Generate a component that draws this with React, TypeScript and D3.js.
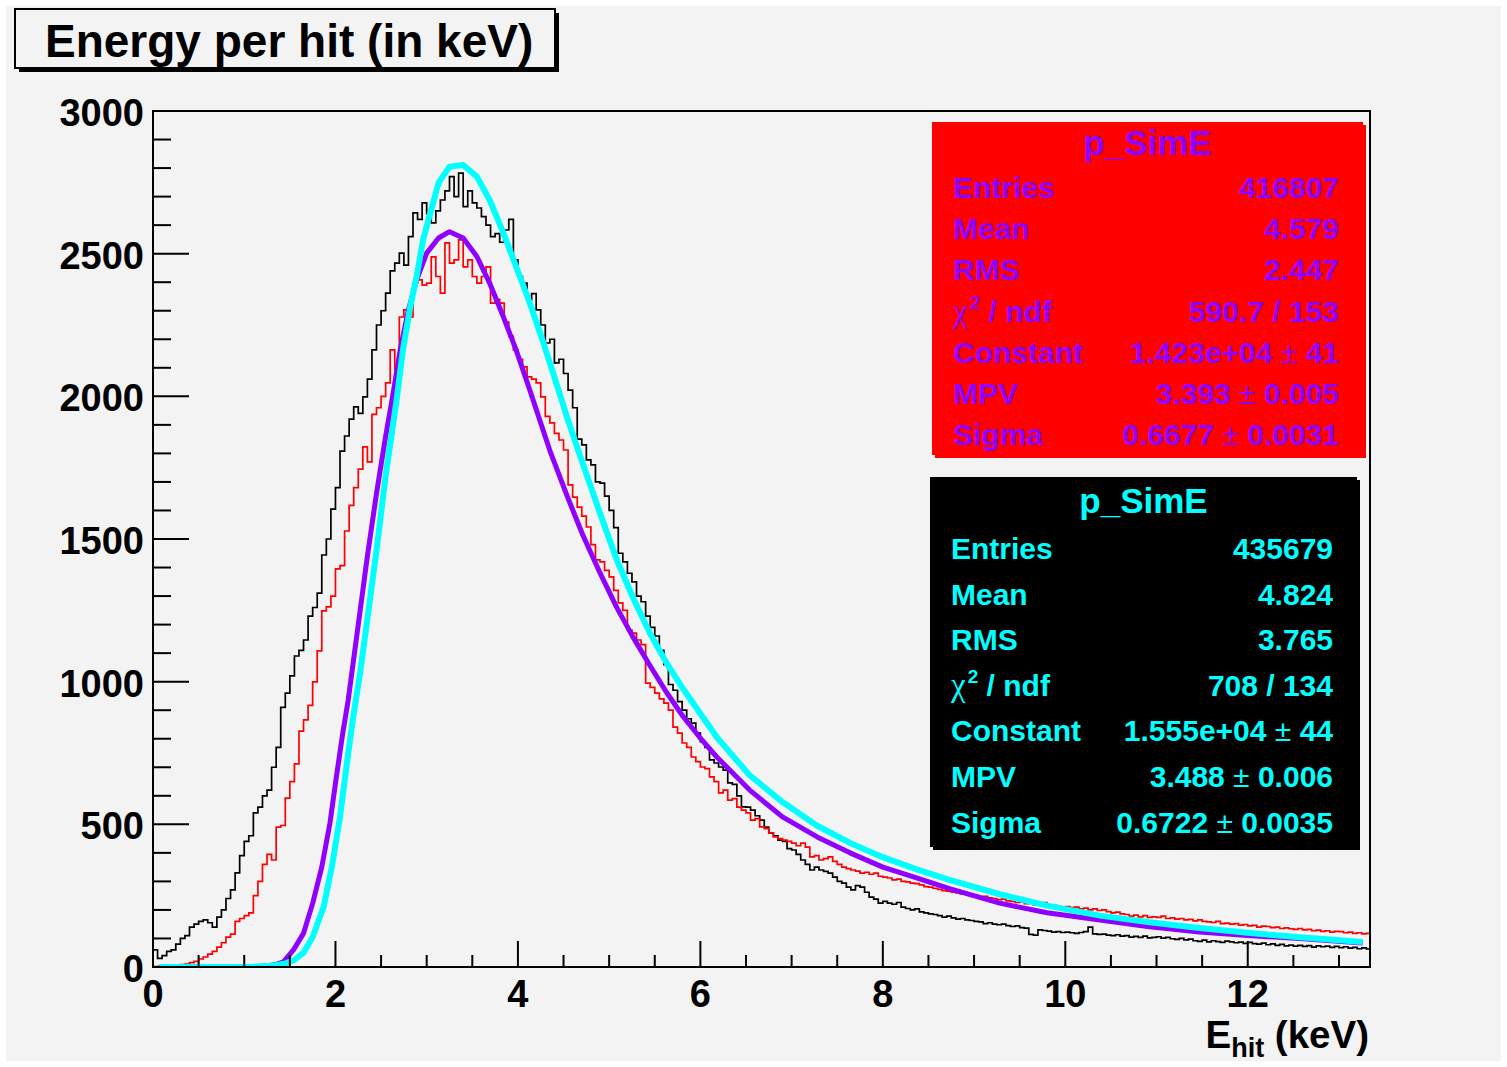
import React from "react";
import * as d3 from "d3";

// ---------------- data ----------------
const X_MAX = 13.34;
const Y_MAX = 3000;
const BIN_WIDTH = 0.05;

// black histogram (435679 entries), counts per 0.05 keV bin starting at 0 (one row = 1 keV)
const BLACK_COUNTS = [
  60, 30, 40, 55, 60, 80, 100, 110, 140, 150, 160, 165, 155, 140, 175, 200, 240, 270, 330, 390,
  440, 460, 540, 560, 600, 620, 700, 770, 910, 960, 1020, 1090, 1110, 1146, 1230, 1260, 1310, 1444, 1500, 1605,
  1680, 1808, 1861, 1920, 1963, 1940, 1998, 2060, 2163, 2250, 2300, 2362, 2440, 2467, 2502, 2460, 2560, 2643, 2620, 2678,
  2640, 2608, 2650, 2688, 2720, 2770, 2700, 2782, 2665, 2720, 2678, 2660, 2630, 2600, 2560, 2570, 2540, 2583, 2620, 2478,
  2420, 2397, 2338, 2360, 2303, 2250, 2187, 2200, 2117, 2130, 2080, 2022, 1960, 1850, 1830, 1777, 1760, 1700, 1696, 1650,
  1600, 1540, 1450, 1420, 1380, 1350, 1300, 1280, 1230, 1190, 1160, 1110, 1060, 990, 970, 930, 900, 870, 855, 820,
  790, 770, 726, 715, 701, 690, 645, 640, 600, 561, 560, 550, 530, 515, 490, 470, 460, 445, 440, 415,
  410, 395, 375, 360, 340, 350, 340, 335, 329, 315, 300, 294, 280, 270, 285, 280, 262, 245, 238, 224,
  230, 224, 220, 226, 210, 205, 200, 204, 193, 190, 186, 184, 180, 175, 178, 172, 168, 170, 165, 163,
  160, 158, 152, 155, 150, 148, 150, 145, 142, 144, 138, 136, 114, 112, 130, 128, 126, 122, 124, 121,
  122, 120, 118, 121, 124, 140, 116, 114, 115, 112, 110, 113, 108, 110, 105, 107, 104, 108, 102, 104,
  106, 101, 104, 99, 97, 100, 95, 98, 92, 90, 94, 88, 92, 89, 86, 91, 88, 85, 87, 83,
  86, 82, 80, 84, 78, 81, 76, 79, 74, 77, 73, 76, 72, 75, 70, 74, 71, 73, 69, 72,
  68, 71, 66, 69, 64, 67, 63,
];

// red histogram (416807 entries), counts per 0.05 keV bin starting at 0 (one row = 1 keV)
const RED_COUNTS = [
  1, 2, 2, 3, 4, 5, 8, 10, 15, 20, 28, 35, 45, 55, 70, 85, 105, 115, 160, 170,
  180, 190, 250, 300, 360, 395, 375, 490, 496, 592, 650, 712, 827, 866, 917, 999, 1108, 1248, 1262, 1300,
  1395, 1407, 1528, 1618, 1680, 1745, 1823, 1770, 1937, 1960, 2000, 2047, 2163, 2093, 2278, 2303, 2278, 2397, 2408, 2390,
  2397, 2489, 2420, 2362, 2538, 2467, 2478, 2548, 2454, 2478, 2420, 2397, 2420, 2454, 2327, 2340, 2327, 2260, 2210, 2163,
  2130, 2103, 2068, 2060, 2047, 1998, 1930, 1907, 1870, 1847, 1812, 1690, 1647, 1612, 1580, 1542, 1480, 1427, 1420, 1390,
  1367, 1320, 1276, 1250, 1181, 1170, 1146, 1130, 995, 980, 960, 940, 925, 900, 841, 820, 785, 770, 736, 720,
  701, 695, 666, 650, 610, 620, 585, 590, 560, 550, 540, 515, 520, 491, 485, 470, 456, 450, 445, 440,
  434, 425, 434, 420, 386, 390, 375, 380, 386, 370, 360, 350, 345, 340, 336, 329, 332, 325, 329, 318,
  315, 312, 305, 308, 300, 298, 294, 292, 288, 282, 280, 276, 272, 268, 266, 262, 260, 256, 258, 252,
  250, 246, 248, 242, 240, 236, 238, 232, 230, 226, 228, 222, 224, 218, 220, 226, 214, 216, 212, 210,
  212, 208, 210, 204, 206, 200, 204, 198, 200, 194, 190, 192, 186, 184, 178, 182, 176, 180, 174, 176,
  174, 178, 170, 172, 168, 170, 165, 167, 162, 165, 160, 158, 156, 160, 152, 154, 150, 152, 147, 149,
  144, 146, 140, 143, 142, 138, 140, 135, 137, 134, 132, 135, 130, 132, 127, 129, 125, 127, 122, 125,
  124, 120, 122, 118, 120, 116, 118,
];

// cyan Landau fit (black histogram)
const CYAN_FIT_X = [
  0.07, 0.8, 1.1, 1.3, 1.45, 1.55, 1.65, 1.75, 1.87, 1.96, 2.05, 2.12, 2.19, 2.27,
  2.35, 2.45, 2.55, 2.67, 2.74, 2.82, 2.89, 2.96, 3.04, 3.13, 3.25, 3.4, 3.55, 3.69,
  3.84, 3.98, 4.13, 4.28, 4.42, 4.54, 4.64, 4.9, 5.08, 5.26, 5.45, 5.63, 5.81, 6.18,
  6.54, 6.9, 7.28, 7.64, 8.0, 8.37, 8.73, 9.28, 9.8, 10.38, 10.9, 11.47, 12.0, 12.57,
  13.26,
];
const CYAN_FIT_Y = [
  0, 0, 1, 4, 12, 25, 50, 105, 210, 350, 526, 701, 866, 1030,
  1220, 1460, 1720, 1987, 2163, 2314, 2420, 2548, 2643, 2748, 2805, 2811, 2770, 2688,
  2573, 2455, 2327, 2187, 2047, 1925, 1830, 1590, 1430, 1295, 1168, 1065, 975, 805,
  672, 578, 495, 435, 385, 342, 305, 255, 215, 180, 158, 137, 120, 104,
  88,
];

// purple Landau fit (red histogram)
const PURPLE_FIT_X = [
  0.07, 0.8, 1.1, 1.25, 1.35, 1.43, 1.54, 1.65, 1.75, 1.85, 1.94, 2.01, 2.08, 2.14,
  2.25, 2.35, 2.45, 2.55, 2.62, 2.71, 2.8, 2.89, 3.0, 3.13, 3.25, 3.4, 3.55, 3.69,
  3.84, 3.98, 4.13, 4.35, 4.54, 4.71, 4.9, 5.08, 5.26, 5.45, 5.63, 5.81, 5.99, 6.18,
  6.54, 6.9, 7.28, 7.64, 8.0, 8.37, 8.73, 9.28, 9.8, 10.38, 10.9, 11.47, 12.0, 12.57,
  13.26,
];
const PURPLE_FIT_Y = [
  0, 0, 1, 4, 9, 18, 60, 118, 223, 350, 505, 666, 820, 936,
  1200, 1440, 1660, 1860, 1987, 2163, 2303, 2408, 2502, 2555, 2577, 2555, 2490, 2397,
  2279, 2163, 2022, 1810, 1650, 1515, 1381, 1262, 1157, 1055, 962, 878, 806, 736,
  620, 526, 456, 400, 350, 312, 275, 224, 190, 165, 142, 123, 110, 100,
  84,
];

const X_TICKS = [0, 2, 4, 6, 8, 10, 12];
const Y_TICKS = [0, 500, 1000, 1500, 2000, 2500, 3000];

const TITLE = "Energy per hit (in keV)";
const STATS_NAME = "p_SimE";
const RED_STATS_ROWS = [
  ["Entries", "416807", ""],
  ["CHI", "590.7 / 153", ""],
  ["Constant", "1.423e+04", "41"],
  ["MPV", "3.393", "0.005"],
  ["Sigma", "0.6677", "0.0031"],
];
const RED_STATS_MOMENTS = [
  ["Mean", "4.579"],
  ["RMS", "2.447"],
];
const BLACK_STATS_ROWS = [
  ["Entries", "435679", ""],
  ["CHI", "708 / 134", ""],
  ["Constant", "1.555e+04", "44"],
  ["MPV", "3.488", "0.006"],
  ["Sigma", "0.6722", "0.0035"],
];
const BLACK_STATS_MOMENTS = [
  ["Mean", "4.824"],
  ["RMS", "3.765"],
];

// ---------------- drawing ----------------
const W = 1507;
const H = 1067;
const FRAME = { left: 153, right: 1370, top: 111, bottom: 967 };
const SANS = "'Liberation Sans', Arial, Helvetica, sans-serif";
const SERIF = "'Liberation Serif', 'Times New Roman', serif";
const PURPLE = "#8f00ff";
const CYAN = "#00ffff";

type Row = string[];

function buildRows(rows: Row[], moments: Row[]): Row[] {
  // order: Entries, Mean, RMS, chi2, Constant, MPV, Sigma
  return [rows[0], [moments[0][0], moments[0][1], ""], [moments[1][0], moments[1][1], ""], rows[1], rows[2], rows[3], rows[4]];
}

function StatsBox(props: {
  x: number; y: number; w: number; h: number; fill: string; color: string;
  titleY: number; rowY0: number; rowStep: number; leftX: number; rightX: number;
  rows: Row[];
}) {
  const { x, y, w, h, fill, color, titleY, rowY0, rowStep, leftX, rightX, rows } = props;
  return (
    <g fontFamily={SANS} fontWeight="bold" fill={color}>
      <rect x={x + 3} y={y + 3} width={w} height={h} fill={fill} />
      <rect x={x} y={y} width={w} height={h} fill={fill} />
      <text x={x + w / 2} y={titleY} fontSize={35} textAnchor="middle">{STATS_NAME}</text>
      {rows.map((r, i) => {
        const ry = rowY0 + i * rowStep;
        return (
          <g key={i}>
            {r[0] === "CHI" ? (
              <text x={leftX} y={ry} fontSize={30}>
                <tspan fontFamily={SERIF} fontWeight="normal" fontSize={33}>χ</tspan>
                <tspan fontSize={19} dy={-13} dx={2}>2</tspan>
                <tspan dy={13}> / ndf</tspan>
              </text>
            ) : (
              <text x={leftX} y={ry} fontSize={30}>{r[0]}</text>
            )}
            <text x={rightX} y={ry} fontSize={30} textAnchor="end">
              {r[2] ? (
                <>
                  <tspan>{r[1]}</tspan>
                  <tspan fontWeight="normal"> ± </tspan>
                  <tspan>{r[2]}</tspan>
                </>
              ) : (
                r[1]
              )}
            </text>
          </g>
        );
      })}
    </g>
  );
}

export default function App() {
  const x = d3.scaleLinear().domain([0, X_MAX]).range([FRAME.left, FRAME.right]);
  const y = d3.scaleLinear().domain([0, Y_MAX]).range([FRAME.bottom, FRAME.top]);

  const histPath = (counts: number[]) => {
    const pts: [number, number][] = [[0, 0]];
    counts.forEach((c, i) => pts.push([i * BIN_WIDTH, c]));
    pts.push([counts.length * BIN_WIDTH, counts[counts.length - 1]]);
    return d3
      .line<[number, number]>()
      .x((d) => x(d[0]))
      .y((d) => y(d[1]))
      .curve(d3.curveStepAfter)(pts) || "";
  };
  const fitPath = (xs: number[], ys: number[]) =>
    d3
      .line<number>()
      .x((d) => x(d))
      .y((_, i) => y(ys[i]))(xs) || "";

  const yMinor = d3.range(0, Y_MAX + 1, 100);
  const xMinor = d3.range(0, X_MAX, 0.5);

  return (
    <svg
      width={W}
      height={H}
      viewBox={`0 0 ${W} ${H}`}
      style={{ position: "absolute", left: 0, top: 0, display: "block" }}
    >
      <defs>
        <clipPath id="plotclip">
          <rect x={FRAME.left} y={FRAME.top} width={FRAME.right - FRAME.left} height={FRAME.bottom - FRAME.top} />
        </clipPath>
      </defs>
      <rect x={0} y={0} width={W} height={H} fill="#ffffff" />
      <rect x={6} y={6} width={W - 12} height={H - 12} fill="#f3f3f3" />

      {/* title box */}
      <rect x={19} y={13} width={540} height={59} fill="#000" />
      <rect x={15} y={9} width={540} height={59} fill="#f3f3f3" stroke="#000" strokeWidth={2} />
      <text x={45} y={57} fontFamily={SANS} fontWeight="bold" fontSize={46} fill="#000">{TITLE}</text>

      {/* data */}
      <g clipPath="url(#plotclip)" fill="none">
        <path d={histPath(BLACK_COUNTS)} stroke="#000" strokeWidth={1.7} />
        <path d={histPath(RED_COUNTS)} stroke="#ff0000" strokeWidth={1.7} />
        <path d={fitPath(PURPLE_FIT_X, PURPLE_FIT_Y)} stroke={PURPLE} strokeWidth={5} strokeLinejoin="round" />
        <path d={fitPath(CYAN_FIT_X, CYAN_FIT_Y)} stroke={CYAN} strokeWidth={6} strokeLinejoin="round" />
      </g>

      {/* frame */}
      <rect
        x={FRAME.left}
        y={FRAME.top}
        width={FRAME.right - FRAME.left}
        height={FRAME.bottom - FRAME.top}
        fill="none"
        stroke="#000"
        strokeWidth={2}
      />

      {/* ticks */}
      <g stroke="#000" strokeWidth={2}>
        {yMinor.map((v) => (
          <line key={`ym${v}`} x1={FRAME.left} x2={FRAME.left + (v % 500 === 0 ? 36 : 18)} y1={y(v)} y2={y(v)} />
        ))}
        {xMinor.map((v) => (
          <line key={`xm${v}`} x1={x(v)} x2={x(v)} y1={FRAME.bottom} y2={FRAME.bottom - (v % 2 === 0 ? 26 : 12)} />
        ))}
      </g>

      {/* tick labels */}
      <g fontFamily={SANS} fontWeight="bold" fontSize={38} fill="#000">
        {Y_TICKS.map((v) => (
          <text key={`yl${v}`} x={FRAME.left - 9} y={y(v) + 15} textAnchor="end">
            {v}
          </text>
        ))}
        {X_TICKS.map((v) => (
          <text key={`xl${v}`} x={x(v)} y={1007} textAnchor="middle">
            {v}
          </text>
        ))}
        <text x={1369} y={1048} textAnchor="end" fontSize={38.5}>
          <tspan>E</tspan>
          <tspan fontSize={27} dy={9}>hit</tspan>
          <tspan dy={-9}> (keV)</tspan>
        </text>
      </g>

      {/* stats boxes */}
      <StatsBox
        x={932} y={122} w={431} h={333} fill="#ff0000" color={PURPLE}
        titleY={155} rowY0={198} rowStep={41.2} leftX={953} rightX={1339}
        rows={buildRows(RED_STATS_ROWS, RED_STATS_MOMENTS)}
      />
      <StatsBox
        x={930} y={477} w={427} h={370} fill="#000000" color={CYAN}
        titleY={513} rowY0={559} rowStep={45.6} leftX={951} rightX={1333}
        rows={buildRows(BLACK_STATS_ROWS, BLACK_STATS_MOMENTS)}
      />
    </svg>
  );
}
